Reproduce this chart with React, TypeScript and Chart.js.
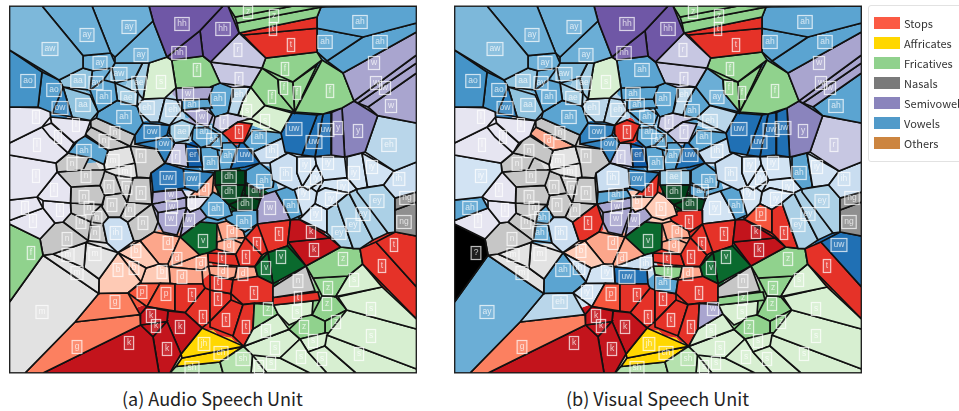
import React, { useEffect, useRef } from "react";
import { Chart, registerables } from "chart.js";
Chart.register(...registerables);

const labelX = [50,87,129,182,179,141,100,119,28,78,96,139,161,197,54,104,128,188,60,83,147,173,192,202,124,36,76,152,182,204,115,58,104,164,37,84,141,176,193,211,214,72,113,125,36,86,168,192,54,109,127,141,171,204,84,25,89,112,172,130,60,192,216,33,81,97,143,171,189,95,116,67,168,203,31,68,95,136,177,201,77,118,134,162,182,142,166,192,115,42,151,203,156,180,129,77,167,204,192,248,274,360,223,273,325,380,291,238,374,285,239,376,284,385,239,272,297,330,218,391,247,265,224,294,326,338,358,239,259,314,389,272,228,245,305,328,372,286,354,229,316,264,399,343,229,256,304,331,407,377,245,270,291,316,363,404,244,353,339,311,232,279,394,257,229,314,281,246,222,343,223,382,266,243,354,298,218,328,254,218,298,327,268,297,371,226,336,246,304,266,371,313,275,221,359,301,322,243,271,259];
const labelY = [49,35,27,24,53,55,63,74,81,81,83,83,82,70,90,97,98,94,108,105,108,110,105,117,117,117,125,132,132,132,133,137,141,144,145,151,156,157,155,163,140,164,161,172,176,176,178,179,190,187,188,193,195,190,197,208,208,205,207,210,210,202,209,221,222,218,223,219,220,233,233,239,243,241,253,255,254,251,259,264,273,270,268,272,277,292,294,295,302,312,316,317,326,327,343,347,349,344,368,12,16,22,29,29,42,42,45,50,63,69,79,83,88,88,95,97,93,91,99,106,111,121,122,129,130,128,131,132,137,142,145,151,156,155,165,163,167,174,173,177,178,181,179,187,192,191,193,199,198,201,204,208,206,214,214,222,222,225,233,232,232,234,245,244,246,250,257,257,259,259,272,266,268,274,280,281,283,288,293,299,298,304,309,312,309,320,322,327,327,331,336,341,348,353,354,357,359,359,363,367];
const audioLabels = ["aw","ay","ay","hh","hh","ay","ay","aw","ao","aa","ay","ae","s","f","ao","ah","ae","w","ow","aa","eh","eh","ah","w","ah","l","l","ow","ae","ah","n","l","n","ow","l","ah","n","r","er","ah","ah","n","m","m","l","n","uw","ow","l","n","n","n","w","d","n","l","n","n","w","n","l","l","ah","l","n","n","n","w","w","n","ih","n","d","v","f","m","m","b","d","d","m","b","b","b","d","p","p","t","g","m","k","t","k","k","k","g","k","jh","sh","z","z","ah","hh","t","ah","ah","t","r","w","f","r","w","f","w","eh","f","f","f","ah","w","s","s","r","uw","uw","y","y","t","ah","uw","eh","ih","ah","uw","iy","iy","iy","ih","iy","dh","iy","ah","ih","iy","dh","dh","iy","iy","ng","ey","dh","w","ah","iy","ey","ng","ah","ey","ey","k","d","t","t","t","d","k","v","t","t","z","d","t","v","d","s","n","t","z","t","t","t","z","z","s","s","t","z","t","z","s","s","s","s","ch","s","s","s","sh","s","s"];
const visualLabels = ["aw","ay","ay","hh","hh","ay","ay","aw","ao","aa","ay","ae","s","ah","ao","ah","ae","ah","ow","aa","eh","eh","ah","ah","ah","l","l","ow","t","ah","n","l","d","ow","l","n","n","r","er","ah","ah","n","m","m","iy","n","ih","ow","l","n","n","n","ah","t","n","ah","n","n","w","n","l","b","b","l","n","ah","t","w","w","ah","ih","n","d","v","?","m","m","b","d","ih","m","ah","ih","iy","uw","iy","p","t","eh","ay","k","t","k","k","k","g","k","jh","sh","z","z","ah","hh","t","ah","ah","t","r","w","f","r","w","f","w","eh","ay","f","f","ah","ah","ah","eh","r","uw","uw","uw","y","r","ah","uw","r","ih","ah","uw","iy","iy","iy","ih","ah","ae","iy","ah","ih","iy","dh","ah","iy","iy","ng","ey","dh","iy","ah","p","ey","ng","t","ey","t","k","d","t","uw","t","d","k","v","t","t","z","f","t","v","d","s","n","ah","z","t","t","z","z","w","s","s","t","z","t","z","s","s","s","s","ch","s","s","s","sh","s","s"];

const phonemes = ["t","k","p","d","b","g","jh","ch","f","s","z","sh","v","dh","n","m","ng","hh","w","y","l","r","er","ah","ay","aw","ao","aa","ae","eh","ih","iy","ey","ow","uw","?"];
const phonemeColors = ["#e53228","#c3141c","#f6553c","#fca68b","#fecab5","#fc8060","#ffd700","#ffd700","#90d28d","#d7efd1","#90d28d","#b5e2ae","#0a6a2e","#00441b","#c6c6c6","#e2e2e2","#8f8f8f","#6f57a6","#a9a5cf","#8a84bd","#e6e5f1","#c7c7e2","#0e5aa6","#5ba4d1","#6baed6","#7db8da","#4594c8","#8fc2de","#a0cbe2","#b9d6ea","#c9ddf0","#d2e3f3","#abd0e6","#3282be","#2070b4","#000000"];

// Outlines: [cell number (1-based), x,y, x,y, ...] in plot units.
const outlines: number[][] = [
[1,9.5,6,42,6,83,55,83,68,59,80,9.5,50],
[2,42,6,92,6,111,53,83,56],
[3,92,6,149,6,153,21,115,57,111,53],
[4,149,6,223,6,200,30,167,57,153,21],
[5,167,57,200,31,203,56,172,60],
[103,200,31,223,6,228,6,239,33,212,61,203,56],
[6,115,57,153,21,167,57,149,63,115,63],
[7,83,56,110,53,115,63,112,68,93,71,83,68],
[8,115,63,142,63,135,78,115,83,112,68],
[9,9.5,50,42,72,38,107,9.5,107],
[15,42,72,59,80,63,87,53,113,38,107],
[19,63,87,72,117,52,113],
[20,63,87,90,95,98,112,91,120,72,117],
[10,59,80,83,68,92,70,90,90,63,87],
[11,92,71,112,68,104,80,90,90],
[16,90,90,103,80,115,83,117,100,98,112],
[17,115,83,138,93,137,106,118,101],
[12,135,78,143,63,149,63,143,99,138,93],
[13,149,63,167,57,171,60,176,88,165,98,143,99],
[14,172,60,203,56,210,62,220,83,210,87,176,88],
[108,239,33,265,58,262,68,210,62],
[111,210,63,262,68,250,87,220,83],
[18,176,88,213,87,209,99,177,100],
[23,182,100,208,99,212,108,203,108,182,110],
[24,182,110,203,108,213,115,208,128,197,123],
[22,165,98,177,100,182,110,170,125,159,122],
[21,143,99,165,98,159,122,150,122,140,113,137,106],
[25,98,112,117,100,137,106,143,122,135,135,96,118],
[26,9.5,107,50,108,50,117,42,127,9.5,143],
[27,51,117,90,122,85,137,74,143,52,123],
[32,42,127,51,123,74,143,68,153,50,137],
[35,9.5,143,42,127,68,153,56,163,9.5,155],
[45,9.5,155,56,163,57,172,37,197,9.5,200],
[49,57,172,71,187,70,202,43,200,37,197],
[56,9.5,200,37,197,43,208,9.5,220],
[61,43,201,70,202,71,213,63,222,55,223,43,208],
[64,9.5,221,43,208,55,223,40,239,9.5,224],
[75,9.5,224,40,239,43,254,9.5,302],
[72,40,239,55,223,63,222,88,240,86,242,53,254,43,254],
[76,53,254,86,243,84,268],
[77,86,242,118,253,99,279,84,268],
[81,43,256,53,254,84,268,99,279,99,293],
[90,9.5,302,43,257,98,295,75,322,25,373,9.5,373],
[89,99,293,128,293,140,314,75,322],
[96,75,322,140,315,140,325,43,373,25,373],
[95,140,325,153,337,159,373,43,373],
[97,153,337,167,322,181,354,170,373,159,373],
[91,147,308,168,311,167,321,141,325,140,315],
[93,141,325,167,321,153,337],
[94,168,311,185,313,202,328,181,354,167,322],
[88,175,284,203,284,205,288,185,312,175,311],
[87,147,306,160,284,175,284,175,311],
[86,128,293,139,284,160,283,147,306],
[82,118,253,141,282,128,293,99,293,99,279],
[83,118,253,146,268,141,282],
[78,118,253,140,240,159,264,146,268],
[84,146,268,159,264,168,267,170,283,160,283,141,283],
[85,168,267,202,270,203,284,175,284,170,283],
[79,180,237,200,254,199,256,170,267,168,264],
[73,140,241,154,232,180,237,168,264,159,264],
[80,199,256,207,253,208,267,202,270,170,267],
[74,180,237,200,222,217,224,217,248,207,253,200,254],
[67,128,222,152,205,158,222,154,232,140,241,134,241],
[71,104,223,110,218,120,218,127,223,134,241,118,252,107,243],
[100,228,6,293,6,235,17],
[101,235,17,293,6,321,6,321,8,237,23],
[101,237,23,321,8,317,17,239,33],
[104,239,33,317,17,317,29,243,35],
[107,243,35,317,29,317,52,267,58],
[102,321,6,416.5,6,416.5,23,363,37,317,27,317,17],
[105,317,28,363,37,327,61,317,52],
[106,363,37,416.5,23,416.5,32,343,73,327,61],
[109,343,73,416.5,32,416.5,55,354,100],
[112,354,100,416.5,55,416.5,63,358,103],
[114,358,103,416.5,63,416.5,73,368,107],
[120,368,107,416.5,73,416.5,123,377,115],
[118,322,60,343,73,354,102,342,108,323,114,295,112],
[110,265,58,317,52,322,60,293,82,262,68],
[117,293,82,317,65,295,112],
[113,278,79,293,82,295,112,279,93],
[116,262,68,278,80,279,93,294,112,265,105,251,87],
[115,233,88,251,87,243,100,238,115,228,113,232,97],
[121,251,87,265,105,252,118,238,115,243,100],
[122,265,106,292,113,281,133,250,118],
[124,292,113,317,115,302,155,285,152,281,133],
[130,317,115,323,114,315,157,302,155],
[125,323,114,331,113,331,155,315,157],
[126,332,112,342,108,344,157,331,155],
[127,342,108,354,102,378,116,365,152,344,157],
[131,378,116,416.5,123,416.5,162,394,171,365,152],
[143,394,171,416.5,162,416.5,192,395,198,384,185],
[149,395,198,416.5,192,416.5,202,395,210],
[156,395,210,416.5,202,416.5,236,395,232],
[150,357,188,383,185,395,198,395,232,388,233,357,192],
[155,349,193,357,189,388,233,373,240],
[158,337,203,349,193,373,240,360,248,353,248],
[159,327,210,337,203,353,248,340,246,327,233],
[154,299,220,315,204,327,210,327,233,307,223],
[160,291,220,299,220,330,238,288,242],
[166,288,242,330,238,341,247,306,266],
[163,376,242,396,232,416.5,236,416.5,287],
[172,360,249,376,242,416.5,287,416.5,319,363,264],
[170,306,266,341,248,353,249,360,249,362,264,348,276,313,278],
[175,348,276,363,264,382,287,335,297],
[185,338,297,382,287,416.5,319,416.5,329,347,310],
[191,347,310,416.5,329,416.5,369,327,335],
[195,327,335,416.5,369,416.5,373,357,373,325,346],
[197,308,352,325,346,355,373,327,373],
[196,280,358,300,339,308,352,327,373,310,373],
[192,300,339,325,333,330,333,325,346,308,352],
[189,289,329,302,317,312,315,325,322,325,333,300,339],
[187,325,321,347,310,338,330,330,333,325,333],
[182,322,296,337,297,346,310,325,321,312,315],
[178,313,278,348,276,335,296,322,296],
[176,273,287,306,267,315,291,273,297],
[181,273,298,318,292,320,300,273,306],
[184,275,305,313,301,312,315,289,325,278,314],
[183,255,302,273,304,278,314,253,329],
[190,253,329,278,314,289,329,245,346],
[193,245,346,289,330,300,339,280,358,253,355],
[188,243,305,255,304,253,329,243,346,233,336],
[186,210,322,231,300,243,305,233,336,210,327],
[179,233,280,257,277,273,284,273,302,253,304,243,304,231,295],
[173,255,265,268,253,273,283,257,275],
[167,268,253,287,247,306,265,273,284],
[162,257,225,291,220,288,245,268,252],
[164,245,238,257,225,271,250,262,255],
[168,237,255,245,238,262,255,255,267,240,267],
[198,220,362,243,347,253,355,251,373,223,373],
[98,202,328,243,346,182,358,181,354],
[194,182,358,243,347,220,362,176,366],
[99,170,373,176,367,220,362,223,373],
[199,253,355,280,358,310,373,267,373],
[200,251,355,265,358,267,373,251,373],
[137,362,153,394,171,384,185,367,187],
[139,347,157,362,153,368,187,357,190,347,177],
[136,315,156,346,157,347,178,323,180,316,163],
[135,297,157,315,156,317,165,302,187,297,173],
[141,316,165,324,180,308,190,303,185],
[138,270,163,288,153,297,157,297,173,302,187,293,190,272,180],
[132,253,152,283,138,288,153,270,163,260,163],
[129,243,143,253,130,281,133,283,138,253,152],
[134,230,168,240,143,245,143,260,163,245,167],
[128,222,133,238,122,252,124,243,143,232,143],
[123,215,117,228,113,250,120,238,122,222,133,213,127],
[28,143,124,169,126,167,135,157,140,135,144,135,135],
[34,135,144,167,135,174,143,165,163,157,149],
[29,170,125,182,120,195,125,188,140,175,143,169,133],
[38,175,143,185,143,188,167,165,163],
[39,186,144,197,147,203,167,188,167],
[31,91,120,97,118,135,135,130,146,91,127],
[33,85,134,91,127,130,146,108,151],
[36,68,153,79,139,85,135,108,150,104,165,90,158],
[37,131,146,157,149,165,163,151,173,150,178,137,177,135,163],
[42,56,163,68,153,88,157,83,170,57,172],
[46,57,172,83,170,105,170,103,177,100,186,71,187],
[43,108,150,130,147,135,163,118,167,105,170,104,164],
[44,102,170,118,167,135,163,138,172,137,177,133,178,115,175],
[30,193,128,208,127,220,135,210,145,200,148,192,140],
[41,210,145,220,135,222,152,212,148],
[40,201,147,217,147,220,170,203,171],
[133,222,143,232,142,237,148,231,170,215,170,222,150],
[140,215,171,245,171,245,185,215,185],
[142,247,170,260,163,275,175,273,187,260,190,245,182],
[146,245,184,260,191,260,200,250,197,245,195],
[145,215,185,245,185,240,200,228,205,220,197],
[151,230,205,240,195,250,196,260,200,257,210,237,210],
[63,213,192,220,195,228,204,232,215,218,220,207,217,200,208],
[48,183,170,202,172,214,173,197,192,185,188],
[47,151,173,165,163,184,168,185,188,153,192],
[53,153,192,182,190,186,198,158,203,152,203],
[54,190,196,214,173,212,197],
[62,187,196,212,197,200,208,190,212,187,207],
[59,152,203,186,198,187,208,158,212],
[68,158,213,186,207,177,235,163,232,158,222],
[69,187,208,190,212,200,208,207,217,200,222,180,237],
[157,225,218,233,211,257,210,258,223,245,232,227,221],
[153,276,190,293,185,302,215,290,220,285,208],
[152,252,213,263,195,275,192,285,208,290,220,258,223],
[147,293,185,307,185,317,192,315,204,300,218,295,198],
[148,317,192,325,188,349,193,337,203,327,209,315,203],
[144,324,180,347,178,357,190,349,193,325,188,317,192],
[161,217,223,227,221,243,230,246,237,230,239,222,240],
[165,217,242,230,238,246,245,235,254,216,250],
[169,209,253,235,254,239,265,228,265,208,262],
[171,209,265,237,267,235,277,228,279,210,274],
[174,237,267,255,267,259,277,235,288,233,280],
[177,210,275,228,279,233,280,231,293,210,290],
[180,210,290,231,293,231,300,210,320],
[92,185,313,205,288,210,290,210,322,202,328],
[119,210,87,220,83,233,88,228,113,215,117,210,110],
[50,102,170,115,175,122,193,105,195,100,185],
[51,115,175,133,178,128,202,122,193],
[52,133,178,150,178,152,204,127,202],
[55,71,187,100,185,104,194,102,204,71,204],
[57,71,204,102,204,93,213,91,222,71,213],
[58,105,197,122,193,127,203,120,217,108,217,102,207],
[60,127,203,152,205,128,222,120,217],
[65,63,222,71,213,91,222,88,240],
[66,93,213,102,206,108,217,102,224,91,222],
[70,91,225,102,224,104,224,107,243,88,242],
];

const legendLabels = ["Stops","Affricates","Fricatives","Nasals","Semivowels","Vowels","Others"];
const legendColors = ["#fb5a44","#ffd700","#90d18d","#7a7a7a","#8a84bc","#519ac9","#cc8540"];
const captions = ["(a) Audio Speech Unit","(b) Visual Speech Unit"];

const X0 = 9.5, X1 = 416.5, Y0 = 6, Y1 = 373;

// Fills any gap between outlines with the colour of the nearest label.
function cellPolygon(i: number): { x: number; y: number }[] {
  let poly = [{ x: X0, y: Y0 }, { x: X1, y: Y0 }, { x: X1, y: Y1 }, { x: X0, y: Y1 }];
  const px = labelX[i], py = labelY[i];
  for (let j = 0; j < labelX.length; j++) {
    if (j === i) continue;
    const nx = labelX[j] - px, ny = labelY[j] - py;
    const c = nx * (px + labelX[j]) / 2 + ny * (py + labelY[j]) / 2;
    const next: { x: number; y: number }[] = [];
    for (let k = 0; k < poly.length; k++) {
      const a = poly[k], b = poly[(k + 1) % poly.length];
      const da = nx * a.x + ny * a.y - c, db = nx * b.x + ny * b.y - c;
      if (da <= 0) next.push(a);
      if ((da < 0 && db > 0) || (da > 0 && db < 0)) {
        const t = da / (da - db);
        next.push({ x: a.x + t * (b.x - a.x), y: a.y + t * (b.y - a.y) });
      }
    }
    poly = next;
    if (!poly.length) break;
  }
  if (poly.length) poly = [...poly, poly[0]];
  return poly;
}

// Vertices read separately for neighbouring cells are merged so shared corners coincide.
type Cluster = { x: number; y: number; n: number };
const clusters: Cluster[] = [];
function clusterOf(x: number, y: number) {
  let c = clusters.find((k) => Math.hypot(k.x - x, k.y - y) <= 2.6);
  if (!c) {
    c = { x, y, n: 0 };
    clusters.push(c);
  }
  c.x = (c.x * c.n + x) / (c.n + 1);
  c.y = (c.y * c.n + y) / (c.n + 1);
  c.n++;
  return c;
}
const outlineClusters = outlines.map((o) => {
  const list: Cluster[] = [];
  for (let k = 1; k < o.length; k += 2) list.push(clusterOf(o[k], o[k + 1]));
  return list;
});
function outlinePolygon(i: number) {
  const pts = outlineClusters[i].map((c) => ({ x: c.x, y: c.y }));
  pts.push(pts[0]);
  return pts;
}

function Panel({ labels, left }: { labels: string[]; left: number }) {
  const ref = useRef<HTMLCanvasElement>(null);
  useEffect(() => {
    const labelPlugin = {
      id: "cellLabels",
      afterDatasetsDraw(chart: any) {
        const { ctx, scales, chartArea } = chart;
        ctx.save();
        ctx.strokeStyle = "#222";
        ctx.lineWidth = 1;
        ctx.strokeRect(chartArea.left, chartArea.top, chartArea.width, chartArea.height);
        ctx.font = "8.5px 'Liberation Sans'";
        ctx.textAlign = "center";
        ctx.textBaseline = "middle";
        labels.forEach((t, i) => {
          const x = scales.x.getPixelForValue(labelX[i]);
          const y = scales.y.getPixelForValue(labelY[i]);
          const w = Math.max(ctx.measureText(t).width + 5, 7);
          const h = 13;
          ctx.fillStyle = "rgba(255,255,255,0.12)";
          ctx.fillRect(x - w / 2, y - h / 2, w, h);
          ctx.strokeStyle = "rgba(255,255,255,0.72)";
          ctx.lineWidth = 1.2;
          ctx.strokeRect(x - w / 2, y - h / 2, w, h);
          ctx.fillStyle = "rgba(255,255,255,0.72)";
          ctx.fillText(t, x, y);
        });
        ctx.restore();
      },
    };
    const style = (t: string, w: number) => ({
      showLine: true,
      fill: "shape",
      tension: 0,
      pointRadius: 0,
      borderWidth: w,
      borderColor: w ? "#111" : "rgba(0,0,0,0)",
      backgroundColor: phonemeColors[phonemes.indexOf(t)],
    });
    const chart = new Chart(ref.current!, {
      type: "scatter",
      data: {
        datasets: [
          ...labels.map((t, i) => ({ data: cellPolygon(i), ...style(t, 0), order: 2 })),
          ...outlines.map((o, i) => ({ data: outlinePolygon(i), ...style(labels[o[0] - 1], 1.7), order: 1 })),
        ],
      },
      options: {
        animation: false,
        responsive: false,
        layout: { padding: { left: X0, top: Y0, right: 430 - X1, bottom: 380 - Y1 } },
        plugins: { legend: { display: false }, tooltip: { enabled: false } },
        scales: {
          x: { type: "linear", min: X0, max: X1, display: false },
          y: { type: "linear", min: Y0, max: Y1, reverse: true, display: false },
        },
      },
      plugins: [labelPlugin],
    } as any);
    return () => chart.destroy();
  }, []);
  return <canvas ref={ref} width={430} height={380} style={{ position: "absolute", left, top: 0, width: 430, height: 380 }} />;
}

export default function App() {
  const font = "'Noto Sans CJK JP','Noto Sans',sans-serif";
  return (
    <div style={{ position: "absolute", left: 0, top: 0, width: 959, height: 411, overflow: "hidden", background: "#fff", fontFamily: font }}>
      <Panel labels={audioLabels} left={0} />
      <Panel labels={visualLabels} left={445} />
      <div style={{ position: "absolute", left: 868, top: 5, width: 100, height: 155, border: "1px solid #e2e2e2", borderRadius: 3 }} />
      {legendLabels.map((t, i) => (
        <React.Fragment key={t}>
          <div style={{ position: "absolute", left: 874, top: 17 + i * 20, width: 26, height: 12, background: legendColors[i] }} />
          <div style={{ position: "absolute", left: 904, top: 15 + i * 20, fontSize: 11, lineHeight: "16px", color: "#333", whiteSpace: "nowrap" }}>{t}</div>
        </React.Fragment>
      ))}
      <div style={{ position: "absolute", left: 122, top: 386, fontSize: 18, lineHeight: "24px", color: "#222", whiteSpace: "nowrap" }}>{captions[0]}</div>
      <div style={{ position: "absolute", left: 566, top: 386, fontSize: 18, lineHeight: "24px", color: "#222", whiteSpace: "nowrap" }}>{captions[1]}</div>
    </div>
  );
}
